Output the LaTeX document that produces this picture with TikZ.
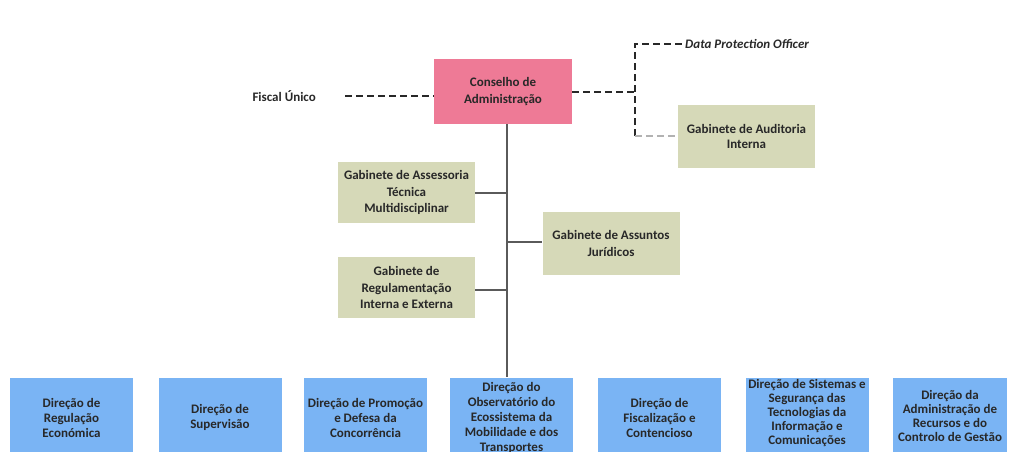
\documentclass[tikz,border=0pt]{standalone}
\usepackage{fontspec}
\setmainfont{Carlito}
\definecolor{pinkbox}{RGB}{238,122,150}
\definecolor{greenbox}{RGB}{214,217,184}
\definecolor{bluebox}{RGB}{122,180,244}
\definecolor{txt}{RGB}{40,40,40}
\definecolor{lineg}{RGB}{90,90,90}
\tikzset{
  box/.style={draw=none, inner sep=0pt, align=center, text=txt, font=\bfseries\fontsize{13}{16.5}\selectfont},
  conselho/.style={box, fill=pinkbox, minimum width=138pt, minimum height=65pt},
  gab/.style={box, fill=greenbox, minimum width=137pt, minimum height=62pt},
  dir/.style={draw=none, fill=bluebox, minimum width=123pt, minimum height=90pt, anchor=north, inner sep=0pt},
  dirtext/.style={box, font=\bfseries\fontsize{13}{15}\selectfont},
  dirtextb/.style={box, font=\bfseries\fontsize{13}{14}\selectfont},
  solidline/.style={draw=lineg, line width=1.3pt},
  dashline/.style={draw=txt, line width=1.3pt, dash pattern=on 7pt off 4pt},
  dashgray/.style={draw=gray!60, line width=1.3pt, dash pattern=on 7pt off 4pt},
}
\begin{document}
\begin{tikzpicture}[x=1pt,y=-1pt]
\useasboundingbox (0,0) rectangle (1009,452);
\clip (0,0) rectangle (1009,452);
% top nodes
\node[conselho] (ca) at (503,91.5) {Conselho de\\Administração};
\node[box, anchor=east] (fu) at (316,96) {Fiscal Único};
\node[box, anchor=west, font=\bfseries\itshape\fontsize{13}{15}\selectfont] (dpo) at (685,44) {Data Protection Officer};
\node[gab, minimum height=63pt, font=\bfseries\fontsize{13}{15}\selectfont] (gai) at (746.5,136.5) {Gabinete de Auditoria\\Interna};
\node[gab, minimum height=61pt] (gat) at (406.5,192.5) {Gabinete de Assessoria\\Técnica\\Multidisciplinar};
\node[gab, minimum height=61pt] (grie) at (406.5,287.5) {Gabinete de\\Regulamentação\\Interna e Externa};
\node[gab, minimum height=63pt] (gaj) at (611,243.5) {Gabinete de Assuntos\\Jurídicos};
% bottom row (cut off by the frame)
\node[dir] (d1) at (71.5,378) {};
\node[dir] (d2) at (220,378) {};
\node[dir] (d3) at (365.5,378) {};
\node[dir] (d4) at (511.5,378) {};
\node[dir] (d5) at (659.5,378) {};
\node[dir] (d6) at (807,378) {};
\node[dir, minimum width=114pt] (d7) at (950,378) {};
\node[dirtext] (t1) at (71.5,418) {Direção de\\Regulação\\Económica};
\node[dirtext] (t2) at (220,417) {Direção de\\Supervisão};
\node[dirtext] (t3) at (365.5,418) {Direção de Promoção\\e Defesa da\\Concorrência};
\node[dirtext] (t4) at (511.5,418) {Direção do\\Observatório do\\Ecossistema da\\Mobilidade e dos\\Transportes};
\node[dirtext] (t5) at (659.5,418) {Direção de\\Fiscalização e\\Contencioso};
\node[dirtextb] (t6) at (807,413) {Direção de Sistemas e\\Segurança das\\Tecnologias da\\Informação e\\Comunicações};
\node[dirtextb] (t7) at (950,416) {Direção da\\Administração de\\Recursos e do\\Controlo de Gestão};
% coordinates
\coordinate (tr1) at (507,193);
\coordinate (tr2) at (507,242);
\coordinate (tr3) at (507,290);
\coordinate (tb) at (507,377);
\coordinate (vtop) at (635,44);
\coordinate (vmid) at (635,92);
\coordinate (vbot) at (635,136);
% connectors
\draw[solidline] (ca.south -| tb) -- (tb);
\draw[solidline] (gat.east |- tr1) -- (tr1);
\draw[solidline] (tr2) -- (gaj.west |- tr2);
\draw[solidline] (grie.east |- tr3) -- (tr3);
\draw[dashline] (fu.east) ++(29,0) -- (ca.west |- fu.east);
\draw[dashline] (ca.east |- vmid) -- (vmid);
\draw[dashline] (vbot) -- (vtop) -- (dpo.west);
\draw[dashgray] (vbot) -- (gai.west |- vbot);
\end{tikzpicture}
\end{document}
